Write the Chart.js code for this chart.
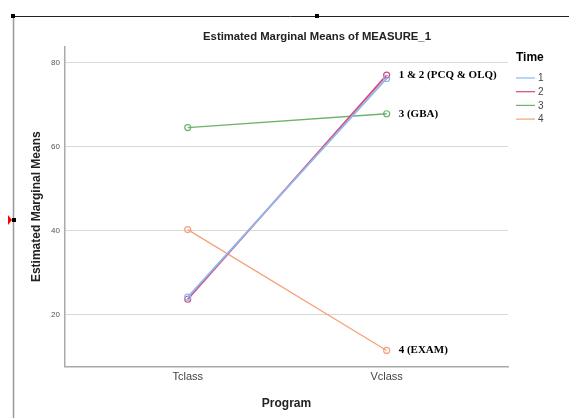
<!DOCTYPE html>
<html>
<head>
<meta charset="utf-8">
<script src="https://cdn.jsdelivr.net/npm/chart.js@4.4.0/dist/chart.umd.min.js"></script>
<style>
  html, body { margin: 0; padding: 0; background: #fff; }
  #box { width: 569px; height: 418px; }
</style>
</head>
<body>
<div id="box"><canvas id="grafico" width="569" height="418"></canvas></div>
<script>
// dados
const titulo = 'Estimated Marginal Means of MEASURE_1';
const programas = ['Tclass', 'Vclass'];
const tempos = ['1', '2', '3', '4'];
const tempo1 = [24.1, 76.2];
const tempo2 = [23.6, 77.0];
const tempo3 = [64.5, 67.8];
const tempo4 = [40.2, 11.4];
const ticksY = [20, 40, 60, 80];
const rotulos = [
    { texto: '1 & 2 (PCQ & OLQ)', serie: 1 },
    { texto: '3 (GBA)', serie: 2 },
    { texto: '4 (EXAM)', serie: 3 }
];

const cores = ['#8fb8ec', '#d9487c', '#6cb46c', '#f5a27a'];

function serie(valores) {
    return valores.map((v, i) => ({ x: i, y: v }));
}

const series = [tempo1, tempo2, tempo3, tempo4];

// desenha título, legenda, rótulos e moldura da seleção
const extras = {
    id: 'extras',
    afterDraw(chart) {
        const c = chart.ctx;
        c.save();

        // título
        c.font = 'bold 11.3px "Liberation Sans", Arial, sans-serif';
        c.fillStyle = '#222';
        c.textAlign = 'center';
        c.textBaseline = 'middle';
        c.fillText(titulo, 317, 37);

        // rótulos ao lado dos pontos de Vclass
        c.font = 'bold 11px "Liberation Serif", "DejaVu Serif", serif';
        c.fillStyle = '#000';
        c.textAlign = 'left';
        rotulos.forEach(r => {
            const pt = chart.getDatasetMeta(r.serie).data[1];
            c.fillText(r.texto, pt.x + 12, pt.y);
        });

        // legenda "Time"
        c.font = 'bold 12px "Liberation Sans", Arial, sans-serif';
        c.fillStyle = '#000';
        c.fillText('Time', 516, 58);
        c.font = '10px "Liberation Sans", Arial, sans-serif';
        c.fillStyle = '#444';
        tempos.forEach((t, i) => {
            const y = 78 + i * 13.7;
            c.strokeStyle = cores[i];
            c.lineWidth = 1.2;
            c.beginPath();
            c.moveTo(516, y);
            c.lineTo(535, y);
            c.stroke();
            c.fillText(t, 538, y + 0.5);
        });

        // moldura de seleção (screenshot)
        c.strokeStyle = '#222';
        c.lineWidth = 1;
        c.beginPath();
        c.moveTo(12, 16.5);
        c.lineTo(569, 16.5);
        c.stroke();
        c.strokeStyle = '#999';
        c.lineWidth = 1.5;
        c.beginPath();
        c.moveTo(13.5, 16);
        c.lineTo(13.5, 418);
        c.stroke();
        c.fillStyle = '#000';
        c.fillRect(11, 14, 4, 4);
        c.fillRect(315, 14, 4, 4);
        c.fillRect(12, 218, 4, 4);
        c.fillStyle = '#f00';
        c.beginPath();
        c.moveTo(8, 215);
        c.lineTo(12, 220);
        c.lineTo(8, 225);
        c.closePath();
        c.fill();

        c.restore();
    }
};

new Chart(document.getElementById('grafico'), {
    type: 'line',
    data: {
        datasets: series.map((valores, i) => ({
            label: tempos[i],
            data: serie(valores),
            borderColor: cores[i],
            backgroundColor: 'rgba(0,0,0,0)',
            borderWidth: i < 2 ? 1.8 : 1.3,
            pointRadius: 3,
            pointBorderWidth: 1.2,
            pointBackgroundColor: 'rgba(0,0,0,0)',
            pointBorderColor: cores[i],
            tension: 0
        }))
    },
    options: {
        responsive: false,
        animation: false,
        layout: { padding: { top: 47, right: 61, bottom: 7, left: 29 } },
        plugins: {
            legend: { display: false },
            tooltip: { enabled: false },
            title: { display: false }
        },
        scales: {
            x: {
                type: 'linear',
                min: -0.617,
                max: 1.61,
                afterBuildTicks(axis) {
                    axis.ticks = [{ value: 0 }, { value: 1 }];
                },
                ticks: {
                    callback: v => programas[v],
                    color: '#444',
                    font: { family: '"Liberation Sans", Arial, sans-serif', size: 11 },
                    padding: 4
                },
                grid: { display: false, drawTicks: false },
                border: { color: '#aaa', width: 1.5 },
                title: {
                    display: true,
                    text: 'Program',
                    color: '#222',
                    font: { family: '"Liberation Sans", Arial, sans-serif', size: 12, weight: 'bold' },
                    padding: { top: 9, bottom: 0 }
                }
            },
            y: {
                min: 7.6,
                max: 83.7,
                afterBuildTicks(axis) {
                    axis.ticks = ticksY.map(v => ({ value: v }));
                },
                afterFit(axis) {
                    axis.width = 36;
                },
                ticks: {
                    color: '#555',
                    font: { family: '"Liberation Sans", Arial, sans-serif', size: 8 },
                    padding: 5
                },
                grid: { color: '#d9d9d9', lineWidth: 1, drawTicks: false },
                border: { color: '#aaa', width: 1.5 },
                title: {
                    display: true,
                    text: 'Estimated Marginal Means',
                    color: '#222',
                    font: { family: '"Liberation Sans", Arial, sans-serif', size: 12, weight: 'bold' },
                    padding: { top: 0, bottom: 2 }
                }
            }
        }
    },
    plugins: [extras]
});
</script>
</body>
</html>
